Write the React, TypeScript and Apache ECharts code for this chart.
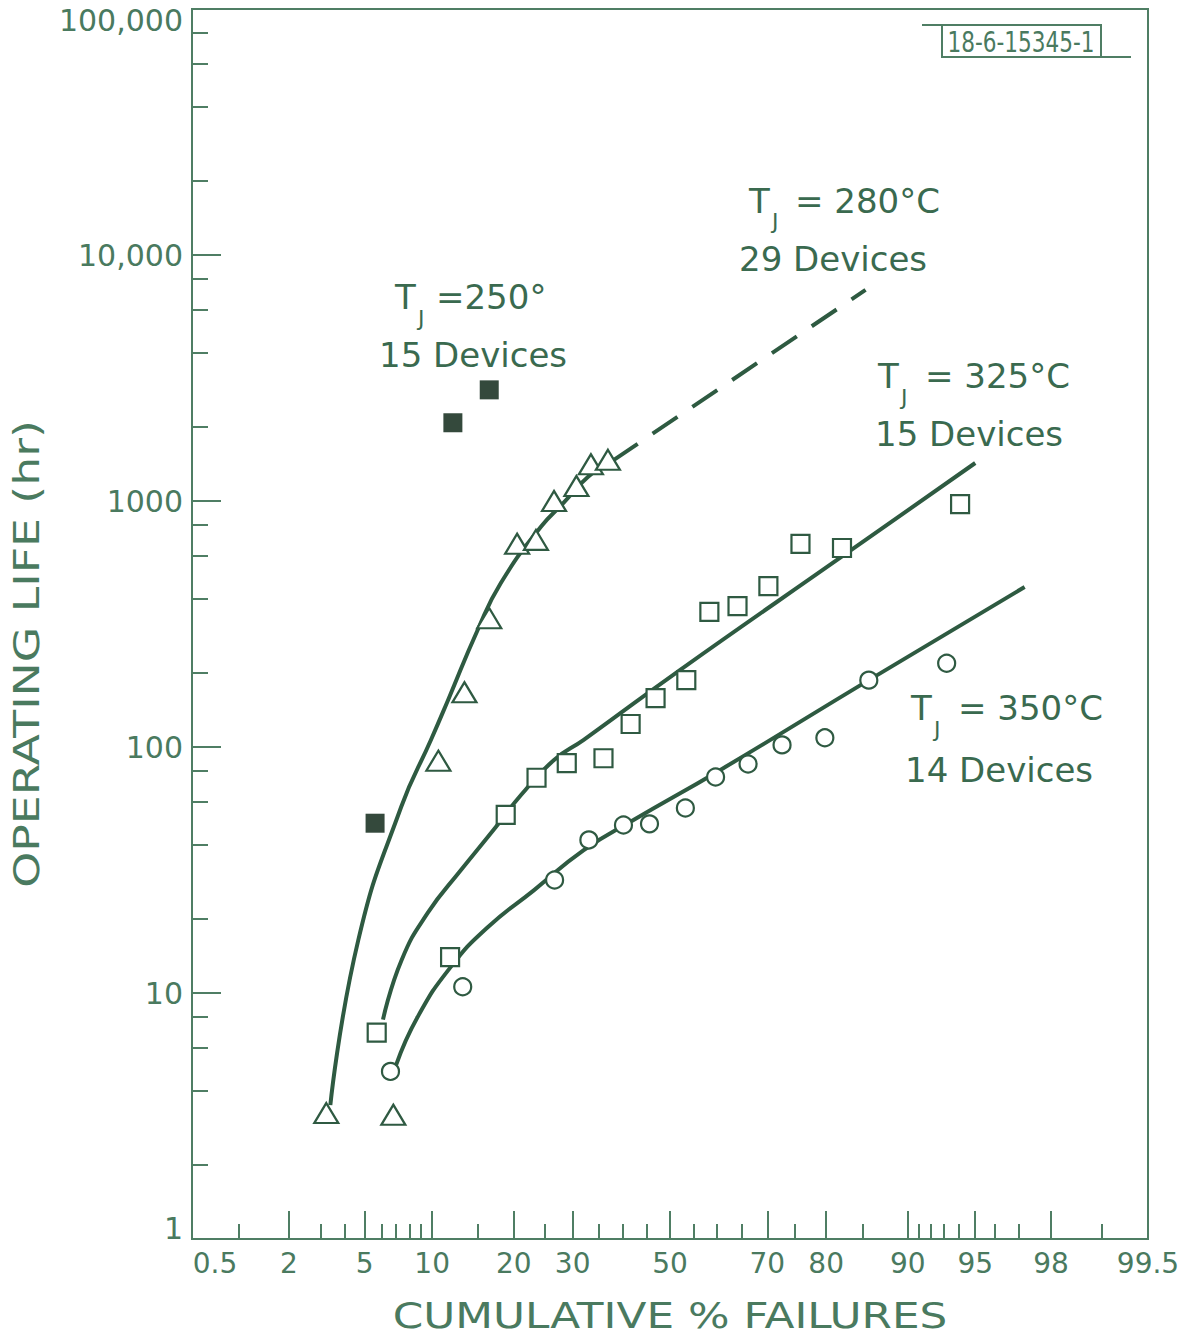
import React, { useEffect, useRef } from "react";
import * as echarts from "echarts";

// ---------- data (percent failed, operating life in hours) ----------
const PCT_250 = [5.6, 12.1, 16.5];
const HR_250 = [49, 2080, 2830];

const PCT_280 = [3.2, 6.8, 10.6, 13.4, 16.5, 20.5, 23.5, 26.6, 30.7, 33.5, 36.9];
const HR_280 = [3.25, 3.2, 88, 167, 334, 670, 695, 1000, 1150, 1410, 1470];

const PCT_325 = [5.7, 11.8, 18.8, 23.6, 28.9, 36.0, 41.6, 46.9, 53.5, 58.4, 64.2, 70.2, 75.9, 82.3, 94.1];
const HR_325 = [6.9, 14, 53, 75, 86, 90, 124, 158, 187, 354, 374, 451, 669, 644, 972];

const PCT_350 = [6.6, 13.2, 26.7, 33.1, 40.1, 45.6, 53.3, 59.7, 66.3, 72.7, 79.8, 85.8, 93.2];
const HR_350 = [4.8, 10.6, 28.8, 41.9, 48.2, 48.7, 56.5, 75.5, 85.3, 102, 109, 187, 219];

// hand-drawn fit curves
const FIT_280_PCT = [3.36, 4.65, 7.37, 9.89, 11.58, 15.0, 18.1, 24.3, 28.3, 32.9, 37.4];
const FIT_280_HR = [3.5, 16.4, 57, 107, 155, 299, 464, 784, 982, 1253, 1441];
const EXT_280_PCT = [37.9, 85.4];
const EXT_280_HR = [1460, 7210];

const FIT_325_PCT = [6.1, 7.4, 9.6, 13.0, 17.4, 21.1, 26.6, 32.1, 52.2, 83.0, 95.0];
const FIT_325_HR = [7.8, 13.6, 21.2, 31.6, 47.3, 63.8, 88.6, 107, 206, 615, 1427];

const FIT_350_PCT = [7.0, 8.7, 11.9, 16.3, 23.2, 32.1, 42.2, 60.7, 85.8, 97.2];
const FIT_350_HR = [5.1, 8.0, 12.8, 18.5, 26.2, 38.1, 50.5, 80.7, 187, 447];

// ---------- axis ticks / labels ----------
const X_LABELS = [0.5, 2, 5, 10, 20, 30, 50, 70, 80, 90, 95, 98, 99.5];
const X_MAJOR_TICKS = [2, 5, 10, 20, 30, 50, 70, 80, 90, 95, 98];
const X_MINOR_TICKS = [1, 3, 4, 6, 7, 8, 9, 15, 25, 35, 40, 45, 55, 60, 65, 75, 85, 91, 92, 93, 94, 96, 97, 99];
const X_RANGE = [0.5, 99.5];
const Y_RANGE = [1, 100000];
const Y_MINOR_TICKS = [2, 4, 6, 8, 20, 40, 60, 80, 200, 400, 600, 800, 2000, 4000, 6000, 8000, 20000, 40000, 60000, 80000];

// ---------- text ----------
const X_TITLE = "CUMULATIVE % FAILURES";
const Y_TITLE = "OPERATING LIFE (hr)";
const ID_TEXT = "18-6-15345-1";
const LABEL_TEMPS = ["=250°", "= 280°C", "= 325°C", "= 350°C"];
const LABEL_DEVICES = ["15 Devices", "29 Devices", "15 Devices", "14 Devices"];

const TEXT = "#4a7a5f";
const ANNOT = "#3a6a4f";
const AXIS = "#4f7e64";
const CURVE = "#2e5a41";
const MARK = "#2f5a42";
const FILLED = "#34493c";
const FONT = '"DejaVu Sans", "Noto Sans", sans-serif';

// inverse standard normal CDF (probability-paper scale)
function normInv(p: number): number {
  const a = [-3.969683028665376e1, 2.209460984245205e2, -2.759285104469687e2, 1.38357751867269e2, -3.066479806614716e1, 2.506628277459239];
  const b = [-5.447609879822406e1, 1.615858368580409e2, -1.556989798598866e2, 6.680131188771972e1, -1.328068155288572e1];
  const c = [-7.784894002430293e-3, -3.223964580411365e-1, -2.400758277161838, -2.549671010115902, 4.374664141464968, 2.938163982698783];
  const d = [7.784695709041462e-3, 3.224671290700398e-1, 2.445134137142996, 3.754408661907416];
  const plow = 0.02425;
  if (p < plow) {
    const q = Math.sqrt(-2 * Math.log(p));
    return (((((c[0] * q + c[1]) * q + c[2]) * q + c[3]) * q + c[4]) * q + c[5]) / ((((d[0] * q + d[1]) * q + d[2]) * q + d[3]) * q + 1);
  }
  if (p <= 1 - plow) {
    const q = p - 0.5;
    const r = q * q;
    return ((((((a[0] * r + a[1]) * r + a[2]) * r + a[3]) * r + a[4]) * r + a[5]) * q) / (((((b[0] * r + b[1]) * r + b[2]) * r + b[3]) * r + b[4]) * r + 1);
  }
  const q = Math.sqrt(-2 * Math.log(1 - p));
  return -(((((c[0] * q + c[1]) * q + c[2]) * q + c[3]) * q + c[4]) * q + c[5]) / ((((d[0] * q + d[1]) * q + d[2]) * q + d[3]) * q + 1);
}
const toZ = (pct: number) => normInv(pct / 100);
const pts = (p: number[], h: number[]) => p.map((v, i) => [toZ(v), h[i]]);

function fmtX(val: number): string {
  let best = X_LABELS[0];
  let bd = Infinity;
  for (const l of X_LABELS) {
    const dd = Math.abs(toZ(l) - val);
    if (dd < bd) {
      bd = dd;
      best = l;
    }
  }
  if (best === X_LABELS[0]) return "{l|" + best + "}";
  return String(best);
}

function fmtY(val: number): string {
  const n = Math.round(val);
  const s = n < 10000 ? String(n) : String(n).replace(/\B(?=(\d{3})+(?!\d))/g, ",");
  if (n === Y_RANGE[1]) return "{t|" + s + "}";
  if (n === Y_RANGE[0]) return "{b|" + s + "}";
  return s;
}

const ANNOT_POS = [
  { tx: 395, ty: 297, jx: 418, jy: 318, ex: 436, dx: 379, dy: 355 },
  { tx: 749, ty: 201, jx: 772, jy: 221, ex: 795, dx: 739, dy: 259 },
  { tx: 878, ty: 376, jx: 901, jy: 397, ex: 925, dx: 875, dy: 434 },
  { tx: 911, ty: 708, jx: 934, jy: 729, ex: 958, dx: 905, dy: 770 },
];

function txt(x: number, y: number, text: string, size: number, color = ANNOT) {
  return {
    type: "text",
    x,
    y,
    silent: true,
    style: { text, fill: color, fontSize: size, fontFamily: FONT, align: "left", verticalAlign: "middle" },
  };
}

export default function App() {
  const ref = useRef<HTMLDivElement>(null);
  useEffect(() => {
    if (!ref.current) return;
    const chart = echarts.init(ref.current, undefined, { renderer: "svg" });
    const zMin = toZ(X_RANGE[0]);
    const zMax = toZ(X_RANGE[1]);
    const labelStyle = { color: TEXT, fontFamily: FONT };

    const graphics: any[] = [];
    LABEL_TEMPS.forEach((t, i) => {
      const p = ANNOT_POS[i];
      graphics.push(txt(p.tx, p.ty, "T", 34));
      graphics.push(txt(p.jx, p.jy, "J", 22));
      graphics.push(txt(p.ex, p.ty, t, 34));
      graphics.push(txt(p.dx, p.dy, LABEL_DEVICES[i], 34));
    });
    graphics.push({
      type: "text",
      x: 670,
      y: 1316,
      scaleX: 1.25,
      silent: true,
      style: { text: X_TITLE, fill: TEXT, fontSize: 35, fontFamily: FONT, align: "center", verticalAlign: "middle" },
    });
    graphics.push({
      type: "text",
      x: 27,
      y: 654,
      rotation: Math.PI / 2,
      scaleX: 1.27,
      silent: true,
      style: { text: Y_TITLE, fill: TEXT, fontSize: 36, fontFamily: FONT, align: "center", verticalAlign: "middle" },
    });
    graphics.push({ type: "rect", silent: true, shape: { x: 942, y: 25, width: 159, height: 32 }, style: { fill: "none", stroke: AXIS, lineWidth: 2 } });
    graphics.push({ type: "line", silent: true, shape: { x1: 922, y1: 25, x2: 942, y2: 25 }, style: { stroke: AXIS, lineWidth: 2 } });
    graphics.push({ type: "line", silent: true, shape: { x1: 1101, y1: 57, x2: 1131, y2: 57 }, style: { stroke: AXIS, lineWidth: 2 } });
    graphics.push({
      type: "text",
      x: 1021,
      y: 42,
      scaleY: 1.15,
      silent: true,
      style: { text: ID_TEXT, fill: TEXT, fontSize: 24, fontFamily: '"Liberation Sans Narrow", "DejaVu Sans Condensed", sans-serif', align: "center", verticalAlign: "middle" },
    });

    const lineBase = { type: "line", symbol: "none", showSymbol: false, smooth: 0.5, z: 1, silent: true, emphasis: { disabled: true } };
    const scatterBase = { type: "scatter", z: 3, silent: true, emphasis: { disabled: true } };
    const hollow = { color: "#ffffff", borderColor: MARK, borderWidth: 2.2, opacity: 1 };

    chart.setOption({
      animation: false,
      backgroundColor: "#ffffff",
      grid: { left: 192, right: 45, top: 9, bottom: 100, show: true, borderColor: AXIS, borderWidth: 2, backgroundColor: "transparent", outerBoundsMode: "none", containLabel: false },
      xAxis: [
        {
          type: "value",
          min: zMin,
          max: zMax,
          position: "bottom",
          axisLine: { show: true, onZero: false, lineStyle: { color: AXIS, width: 2 } },
          axisTick: { show: true, inside: true, length: 28, customValues: X_MAJOR_TICKS.map(toZ), lineStyle: { color: AXIS, width: 2 } },
          axisLabel: {
            show: true,
            customValues: X_LABELS.map(toZ),
            formatter: fmtX,
            margin: 10,
            fontSize: 28,
            ...labelStyle,
            rich: { l: { fontSize: 28, color: TEXT, fontFamily: FONT, padding: [0, 0, 0, 46] } },
          },
          splitLine: { show: false },
        },
        {
          type: "value",
          min: zMin,
          max: zMax,
          position: "bottom",
          axisLine: { show: false, onZero: false },
          axisTick: { show: true, inside: true, length: 15, customValues: X_MINOR_TICKS.map(toZ), lineStyle: { color: AXIS, width: 2 } },
          axisLabel: { show: false },
          splitLine: { show: false },
        },
      ],
      yAxis: [
        {
          type: "log",
          logBase: 10,
          min: Y_RANGE[0],
          max: Y_RANGE[1],
          position: "left",
          axisLine: { show: true, onZero: false, lineStyle: { color: AXIS, width: 2 } },
          axisTick: { show: true, inside: true, length: 29, lineStyle: { color: AXIS, width: 2 } },
          axisLabel: {
            show: true,
            showMinLabel: true,
            showMaxLabel: true,
            formatter: fmtY,
            margin: 9,
            fontSize: 30,
            ...labelStyle,
            rich: {
              t: { fontSize: 30, color: TEXT, fontFamily: FONT, padding: [22, 0, 0, 0] },
              b: { fontSize: 30, color: TEXT, fontFamily: FONT, padding: [0, 0, 22, 0] },
            },
          },
          splitLine: { show: false },
          minorSplitLine: { show: false },
        },
        {
          type: "value",
          min: Math.log10(Y_RANGE[0]),
          max: Math.log10(Y_RANGE[1]),
          position: "left",
          axisLine: { show: false, onZero: false },
          axisTick: { show: true, inside: true, length: 16, customValues: Y_MINOR_TICKS.map((v) => Math.log10(v)), lineStyle: { color: AXIS, width: 2 } },
          axisLabel: { show: false },
          splitLine: { show: false },
        },
      ],
      series: [
        { ...lineBase, name: "280 fit", data: pts(FIT_280_PCT, FIT_280_HR), lineStyle: { color: CURVE, width: 4 } },
        { ...lineBase, name: "280 extrapolation", smooth: false, data: pts(EXT_280_PCT, EXT_280_HR), lineStyle: { color: CURVE, width: 4, type: [30, 18] } },
        { ...lineBase, name: "325 fit", data: pts(FIT_325_PCT, FIT_325_HR), lineStyle: { color: CURVE, width: 4 } },
        { ...lineBase, name: "350 fit", data: pts(FIT_350_PCT, FIT_350_HR), lineStyle: { color: CURVE, width: 4 } },
        { ...scatterBase, name: "TJ = 250°", data: pts(PCT_250, HR_250), symbol: "rect", symbolSize: 19, itemStyle: { color: FILLED, opacity: 1 } },
        { ...scatterBase, name: "TJ = 280°C", data: pts(PCT_280, HR_280), symbol: "triangle", symbolSize: [24, 20], itemStyle: hollow },
        { ...scatterBase, name: "TJ = 325°C", data: pts(PCT_325, HR_325), symbol: "rect", symbolSize: 18, itemStyle: hollow },
        { ...scatterBase, name: "TJ = 350°C", data: pts(PCT_350, HR_350), symbol: "circle", symbolSize: 17, itemStyle: hollow },
      ],
      graphic: graphics,
    });
    return () => chart.dispose();
  }, []);
  return <div ref={ref} style={{ position: "fixed", left: 0, top: 0, width: 1193, height: 1339, background: "#fff" }} />;
}
